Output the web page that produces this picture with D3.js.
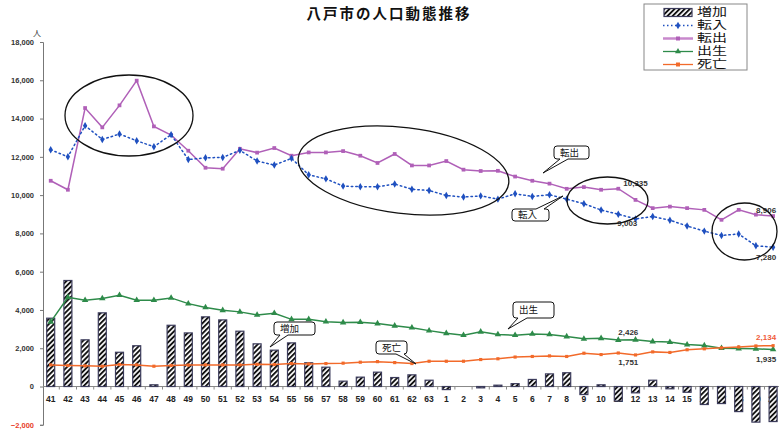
<!DOCTYPE html>
<html>
<head>
<meta charset="utf-8">
<script src="https://cdn.jsdelivr.net/npm/d3@7"></script>
<style>
  html, body { margin: 0; padding: 0; background: #fff; }
  svg { display: block; }
</style>
</head>
<body>
<svg id="chart" width="779" height="433"></svg>
<script>
// 年度（昭和41〜63年、平成1〜20年）
const years = ["41","42","43","44","45","46","47","48","49","50","51","52","53","54","55",
  "56","57","58","59","60","61","62","63",
  "1","2","3","4","5","6","7","8","9","10","11","12","13","14","15","16","17","18","19","20"];

// 増加（人口増減）
const increase = [3570,5540,2440,3850,1790,2130,90,3200,2800,3640,3480,2890,2230,
  1900,2280,1240,1010,280,490,750,470,610,330,
  -160,0,-70,70,150,370,660,720,-420,90,-760,-330,330,-120,-300,-940,-890,-1310,-1860,-1830];

// 転入
const moveIn = [12370,12000,13630,12910,13190,12840,12530,13160,11860,11950,11970,12340,11780,
  11570,11920,11060,10850,10470,10440,10440,10580,10310,10240,
  9980,9900,9960,9790,10070,9930,10020,9790,9550,9220,9003,8760,8880,8690,8390,8120,7890,7970,7350,7280];

// 転出
const moveOut = [10750,10280,14550,13540,14690,15980,13590,13140,12320,11430,11380,12420,12220,
  12460,12060,12230,12230,12300,12060,11680,12150,11550,11550,
  11780,11330,11260,11270,10970,10750,10600,10330,10420,10280,10335,9750,9320,9400,9320,9230,8710,9230,8980,8906];

// 出生
const births = [3380,4660,4510,4600,4770,4510,4510,4630,4330,4130,3980,3900,3740,
  3830,3510,3510,3390,3340,3360,3290,3170,3070,2920,
  2780,2680,2860,2720,2680,2750,2720,2610,2490,2520,2426,2440,2350,2320,2190,2140,2000,1980,1970,1935];

// 死亡
const deaths = [1130,1100,1080,1060,1150,1130,1060,1100,1120,1130,1130,1130,1160,
  1150,1200,1180,1200,1220,1270,1300,1250,1200,1320,
  1320,1320,1410,1450,1540,1570,1600,1570,1740,1670,1751,1650,1810,1780,1920,1970,2020,2070,2120,2134];

const yTicks = [-2000,0,2000,4000,6000,8000,10000,12000,14000,16000,18000];

const legendNames = ["増加","転入","転出","出生","死亡"];

// 数値ラベル：[系列, 年度, 表示値]
const valueLabels = [
  ["転出","11","10,335"], ["転入","11","9,003"],
  ["転出","20","8,906"],  ["転入","20","7,280"],
  ["出生","11","2,426"],  ["死亡","11","1,751"],
  ["死亡","20","2,134"],  ["出生","20","1,935"]
];

const svg = d3.select("#chart");
const jp = "'Noto Sans CJK JP','Noto Sans',sans-serif";
const jpTight = "'Liberation Sans','Noto Sans CJK JP',sans-serif";
const num = "'Liberation Sans',Arial,sans-serif";

const x = d3.scalePoint().domain(years).range([50.7, 773.1]);
const step = x.step();
const y = d3.scaleLinear().domain([-2000, 18000]).range([424.8, 42.0]);

const colors = { "増加": "#3c3c5c", "転入": "#1f50c0", "転出": "#b060b8", "出生": "#2e8b4a", "死亡": "#f26a2a" };
const seriesData = { "転入": moveIn, "転出": moveOut, "出生": births, "死亡": deaths };

// 斜線パターン
const defs = svg.append("defs");
const pat = defs.append("pattern").attr("id", "hatch")
  .attr("patternUnits", "userSpaceOnUse").attr("width", 3.6).attr("height", 3.6)
  .attr("patternTransform", "rotate(45)");
pat.append("rect").attr("width", 3.6).attr("height", 3.6).attr("fill", "#fff");
pat.append("rect").attr("width", 1.9).attr("height", 3.6).attr("fill", "#111");

// タイトル
svg.append("text").attr("x", 389).attr("y", 19).attr("text-anchor", "middle")
  .attr("font-family", jp).attr("font-size", 14.5).attr("font-weight", "bold")
  .attr("letter-spacing", 2).attr("fill", "#111").text("八戸市の人口動態推移");

// 縦軸
const yAxis = svg.append("g").attr("transform", "translate(43,0)")
  .call(d3.axisLeft(y).tickValues(yTicks).tickFormat(d3.format(",")).tickSize(3).tickPadding(6));
yAxis.select(".domain").attr("stroke", "#777");
yAxis.selectAll(".tick line").attr("stroke", "#777");
yAxis.selectAll(".tick text")
  .attr("font-family", num).attr("font-size", 7.5).attr("font-weight", "bold")
  .attr("fill", d => d < 0 ? "#e8402a" : "#333");
svg.append("text").attr("x", 37).attr("y", 36).attr("text-anchor", "middle")
  .attr("font-family", jp).attr("font-size", 8).attr("fill", "#333").text("人");

// 横軸（0の線）
const y0 = y(0);
svg.append("line").attr("x1", 43).attr("x2", 782).attr("y1", y0).attr("y2", y0)
  .attr("stroke", "#888").attr("stroke-width", 1);
svg.append("g").selectAll("line").data(years).join("line")
  .attr("x1", d => x(d) + step / 2).attr("x2", d => x(d) + step / 2)
  .attr("y1", y0).attr("y2", y0 + 3).attr("stroke", "#888");
svg.append("g").selectAll("text").data(years).join("text")
  .attr("x", d => x(d)).attr("y", 402).attr("text-anchor", "middle")
  .attr("font-family", num).attr("font-size", 8.5).attr("font-weight", "bold")
  .attr("fill", "#222").text(d => d);

// 増加（棒）
const barW = 8;
svg.append("g").selectAll("rect").data(years).join("rect")
  .attr("x", d => x(d) - barW / 2)
  .attr("y", (d, i) => Math.min(y(increase[i]), y0))
  .attr("width", barW)
  .attr("height", (d, i) => Math.abs(y(increase[i]) - y0))
  .attr("fill", "url(#hatch)")
  .attr("stroke", colors["増加"]).attr("stroke-width", 1.2);

// 折れ線
function drawSeries(name, marker, dash) {
  const vals = seriesData[name];
  const pts = years.map((d, i) => [x(d), y(vals[i])]);
  svg.append("path").attr("d", d3.line()(pts)).attr("fill", "none")
    .attr("stroke", colors[name]).attr("stroke-width", 1.5)
    .attr("stroke-dasharray", dash || null).attr("stroke-linecap", dash ? "round" : null);
  svg.append("g").selectAll("path").data(pts).join("path")
    .attr("transform", p => `translate(${p[0]},${p[1]})`)
    .attr("d", d3.symbol().type(marker.type).size(marker.size)())
    .attr("fill", colors[name]);
}
drawSeries("出生", { type: d3.symbolTriangle, size: 18 });
drawSeries("死亡", { type: d3.symbolSquare, size: 10 });
drawSeries("転出", { type: d3.symbolSquare, size: 14 });
drawSeries("転入", { type: d3.symbolDiamond, size: 16 }, "1.5,3");

// 数値ラベル
const labelOffset = {
  "転出11": [5, -4.6], "転入11": [-1, 9.5], "転出20": [-17, -5], "転入20": [-17, 11],
  "出生11": [0, -7.5], "死亡11": [0, 10], "死亡20": [-17, -8], "出生20": [-17, 10]
};
valueLabels.forEach(([s, yr, txt]) => {
  const i = years.indexOf(yr);
  const off = labelOffset[s + yr];
  svg.append("text").attr("x", x(yr) + off[0]).attr("y", y(seriesData[s][i]) + off[1])
    .attr("dominant-baseline", "middle")
    .attr("font-family", num).attr("font-size", 8).attr("font-weight", "bold")
    .attr("fill", s === "死亡" && yr === "20" ? "#f05a3a" : "#333").text(txt);
});

// 注目範囲の楕円
const ellipses = [
  { cx: 129, cy: 115.5, rx: 64, ry: 40.5, rot: 0 },
  { cx: 403.5, cy: 170.5, rx: 106, ry: 43, rot: 7 },
  { cx: 607.5, cy: 200.5, rx: 40.5, ry: 23.5, rot: 0 },
  { cx: 744.5, cy: 231.5, rx: 32.5, ry: 28.5, rot: 0 }
];
svg.append("g").selectAll("ellipse").data(ellipses).join("ellipse")
  .attr("cx", 0).attr("cy", 0).attr("rx", d => d.rx).attr("ry", d => d.ry)
  .attr("transform", d => `translate(${d.cx},${d.cy}) rotate(${d.rot})`)
  .attr("fill", "none").attr("stroke", "#111").attr("stroke-width", 1.3);

// 吹き出し
function callout(txt, bx, by, w, h, side, t1, t2, tip) {
  const r = 3, R = bx + w, B = by + h;
  let p;
  if (side === "bottom") {
    p = `M${bx + r},${by} H${R - r} Q${R},${by} ${R},${by + r} V${B - r} Q${R},${B} ${R - r},${B}` +
        ` H${t2} L${tip[0]},${tip[1]} L${t1},${B} H${bx + r} Q${bx},${B} ${bx},${B - r} V${by + r} Q${bx},${by} ${bx + r},${by} Z`;
  } else {
    p = `M${bx + r},${by} H${t1} L${tip[0]},${tip[1]} L${t2},${by} H${R - r} Q${R},${by} ${R},${by + r} V${B - r} Q${R},${B} ${R - r},${B}` +
        ` H${bx + r} Q${bx},${B} ${bx},${B - r} V${by + r} Q${bx},${by} ${bx + r},${by} Z`;
  }
  svg.append("path").attr("d", p).attr("fill", "#fff").attr("stroke", "#111").attr("stroke-width", 1);
  svg.append("text").attr("x", bx + 6).attr("y", by + h / 2 + 0.5).attr("dominant-baseline", "middle")
    .attr("font-family", jp).attr("font-size", 9.5).attr("fill", "#111").text(txt);
}
callout("転出", 554, 146, 35, 13, "bottom", 560, 568, [543, 173]);
callout("転入", 512, 209, 37, 12, "top", 536, 544, [563, 196]);
callout("増加", 274, 322, 41, 13, "bottom", 280, 288, [270, 347]);
callout("死亡", 376, 341, 31, 13, "bottom", 396, 404, [416, 364]);
callout("出生", 513, 302, 41, 16, "bottom", 518, 527, [508, 329]);

// 凡例
const lg = svg.append("g");
lg.append("rect").attr("x", 644).attr("y", 4).attr("width", 103).attr("height", 66)
  .attr("fill", "#fff").attr("stroke", "#888").attr("stroke-width", 1);
const rowY = [13.5, 26.5, 39.5, 52.5, 65.5].map(v => v - 1);
legendNames.forEach((name, k) => {
  const cy = rowY[k];
  if (name === "増加") {
    lg.append("rect").attr("x", 664).attr("y", cy - 4).attr("width", 28).attr("height", 8)
      .attr("fill", "url(#hatch)").attr("stroke", colors["増加"]).attr("stroke-width", 1.2);
  } else {
    const isOut = name === "転出";
    lg.append("line").attr("x1", 663).attr("x2", 693).attr("y1", cy).attr("y2", cy)
      .attr("stroke", isOut ? "#c888cc" : colors[name])
      .attr("stroke-width", isOut ? 2.5 : 1.3)
      .attr("stroke-dasharray", name === "転入" ? "1.5,2.5" : null);
    const sym = name === "転入" ? d3.symbolDiamond : name === "出生" ? d3.symbolTriangle : d3.symbolSquare;
    lg.append("path").attr("transform", `translate(678,${cy})`)
      .attr("d", d3.symbol().type(sym).size(16)()).attr("fill", colors[name]);
  }
  lg.append("text").attr("x", 697).attr("y", cy + 0.5).attr("dominant-baseline", "middle")
    .attr("font-family", jpTight).attr("font-size", 11.5)
    .attr("textLength", 30).attr("lengthAdjust", "spacingAndGlyphs")
    .attr("fill", "#111").text(name);
});
</script>
</body>
</html>
